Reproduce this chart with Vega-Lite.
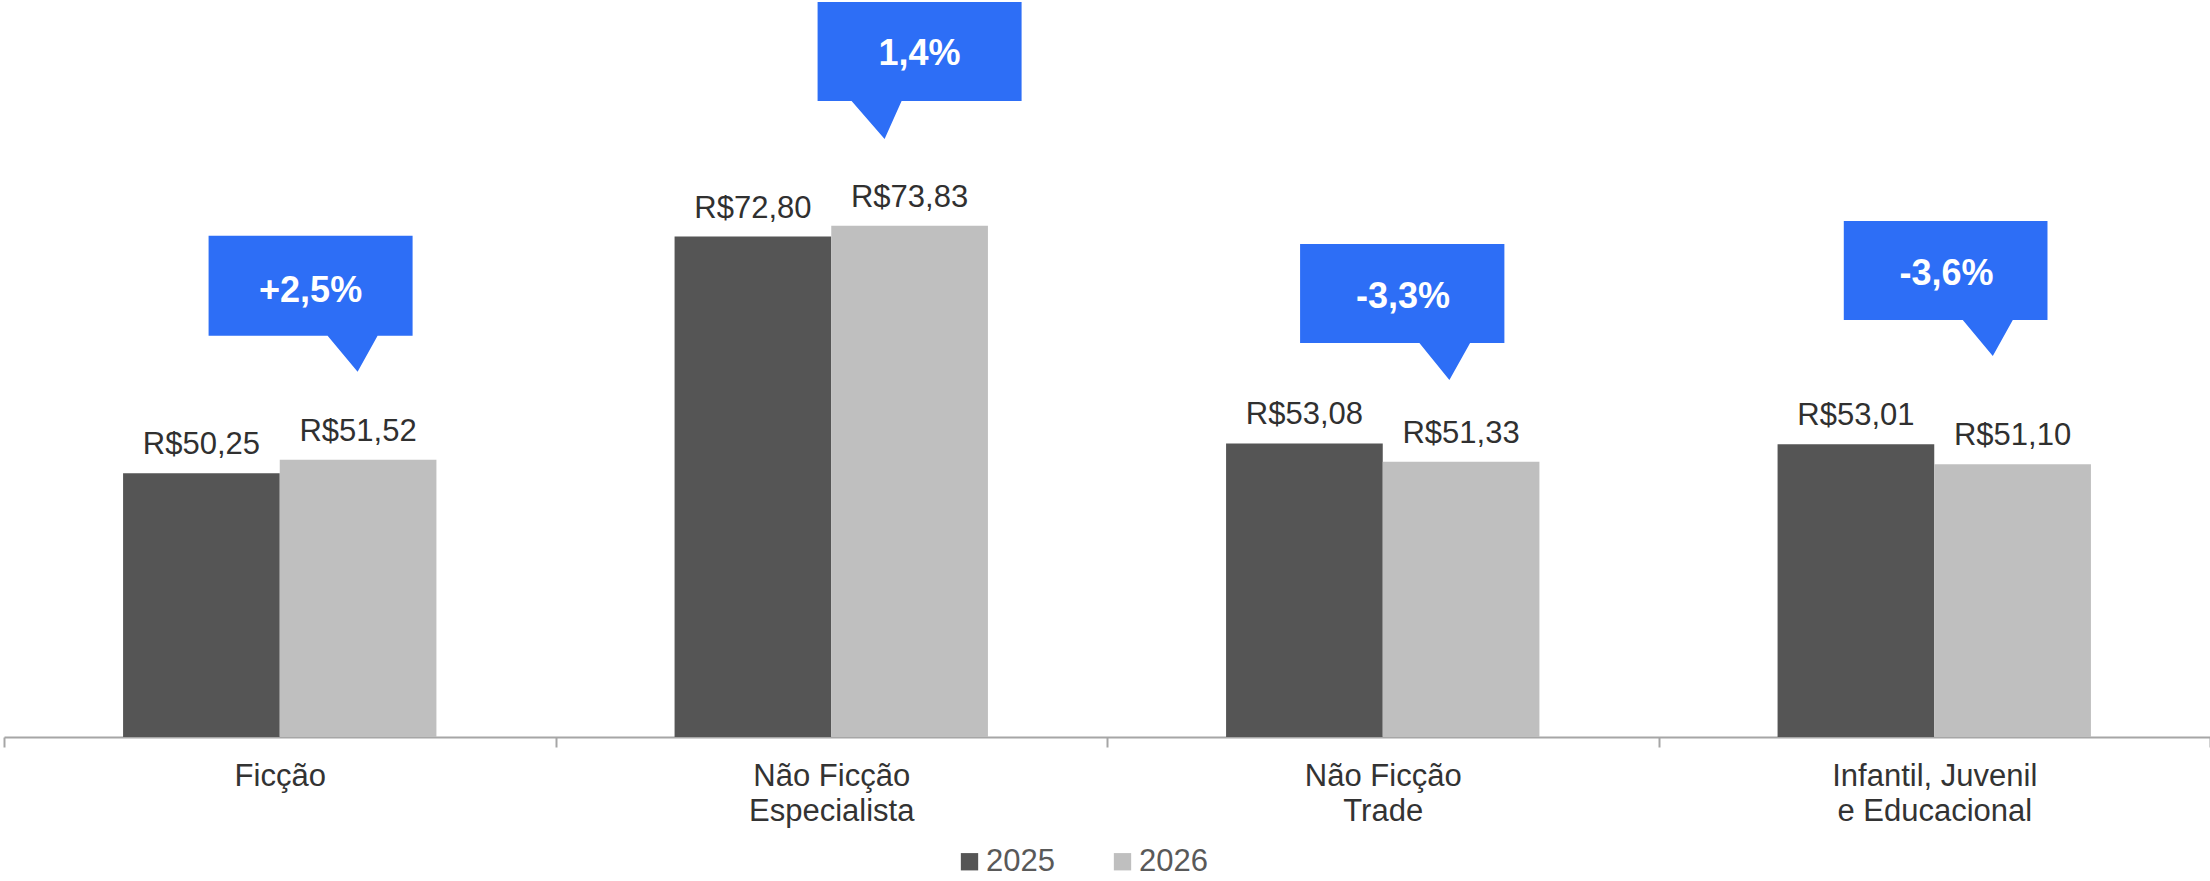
{
  "$schema": "https://vega.github.io/schema/vega-lite/v6.json",
  "autosize": {"type": "none"},
  "width": 2206,
  "height": 737,
  "padding": {"left": 4, "right": 0, "top": 0, "bottom": 144},
  "background": "white",
  "config": {
    "font": "Liberation Sans",
    "view": {"stroke": null},
    "locale": {"number": {"decimal": ",", "thousands": ".", "grouping": [3], "currency": ["R$", ""]}}
  },
  "datasets": {
    "bars": [
      {"cat": "Ficção", "year": "2025", "value": 50.25},
      {"cat": "Ficção", "year": "2026", "value": 51.52},
      {"cat": "Não Ficção Especialista", "year": "2025", "value": 72.80},
      {"cat": "Não Ficção Especialista", "year": "2026", "value": 73.83},
      {"cat": "Não Ficção Trade", "year": "2025", "value": 53.08},
      {"cat": "Não Ficção Trade", "year": "2026", "value": 51.33},
      {"cat": "Infantil, Juvenil e Educacional", "year": "2025", "value": 53.01},
      {"cat": "Infantil, Juvenil e Educacional", "year": "2026", "value": 51.10}
    ],
    "callouts": [
      {"cat": "Ficção", "year": "2026", "pct": "+2,5%", "tip": 59.92},
      {"cat": "Não Ficção Especialista", "year": "2026", "pct": "1,4%", "tip": 82.11},
      {"cat": "Não Ficção Trade", "year": "2026", "pct": "-3,3%", "tip": 59.13},
      {"cat": "Infantil, Juvenil e Educacional", "year": "2026", "pct": "-3,6%", "tip": 61.42}
    ]
  },
  "encoding": {
    "x": {
      "field": "cat",
      "type": "nominal",
      "sort": ["Ficção", "Não Ficção Especialista", "Não Ficção Trade", "Infantil, Juvenil e Educacional"],
      "scale": {"paddingInner": 0, "paddingOuter": 0},
      "axis": {
        "title": null,
        "labelAngle": 0,
        "tickBand": "extent",
        "domainColor": "#A6A6A6",
        "domainWidth": 2,
        "tickColor": "#A6A6A6",
        "tickWidth": 2,
        "tickSize": 10,
        "labelFontSize": 31,
        "labelFont": "Liberation Sans",
        "labelColor": "#333333",
        "labelPadding": 14,
        "labelLineHeight": 35,
        "labelLimit": 600,
        "labelOverlap": false,
        "grid": false,
        "labelExpr": "datum.value == 'Não Ficção Especialista' ? ['Não Ficção', 'Especialista'] : datum.value == 'Não Ficção Trade' ? ['Não Ficção', 'Trade'] : datum.value == 'Infantil, Juvenil e Educacional' ? ['Infantil, Juvenil', 'e Educacional'] : datum.value"
      }
    },
    "xOffset": {
      "field": "year",
      "type": "nominal",
      "scale": {"domain": ["2025", "2026"], "paddingInner": 0, "paddingOuter": 0.76}
    }
  },
  "layer": [
    {
      "data": {"name": "bars"},
      "mark": {"type": "bar"},
      "encoding": {
        "y": {"field": "value", "type": "quantitative", "scale": {"domain": [25.1, 95.35], "nice": false, "zero": false}, "axis": null},
        "y2": {"datum": 25.1},
        "color": {
          "field": "year",
          "type": "nominal",
          "scale": {"domain": ["2025", "2026"], "range": ["#555555", "#BFBFBF"]},
          "legend": {
            "orient": "none",
            "legendX": 950,
            "legendY": 846,
            "direction": "horizontal",
            "title": null,
            "symbolType": "square",
            "symbolSize": 300,
            "symbolStrokeWidth": 0,
            "labelFontSize": 31,
            "labelColor": "#595959",
            "labelFont": "Liberation Sans",
            "labelOffset": 1,
            "columnPadding": 52,
            "padding": 0
          }
        }
      }
    },
    {
      "data": {"name": "bars"},
      "mark": {"type": "text", "baseline": "alphabetic", "align": "center", "dy": -19, "fontSize": 31, "color": "#303030"},
      "encoding": {
        "y": {"field": "value", "type": "quantitative"},
        "text": {"field": "value", "type": "quantitative", "format": "$.2f"}
      }
    },
    {
      "data": {"name": "callouts"},
      "transform": [{"filter": "datum.cat == 'Ficção'"}],
      "mark": {"type": "point", "filled": true, "opacity": 1, "size": 4, "strokeWidth": 0, "color": "#2D6EF6",
        "shape": "M-149.5,-136 L54.5,-136 L54.5,-36 L19.5,-36 L-0.5,0 L-30.5,-36 L-149.5,-36 Z"},
      "encoding": {"y": {"field": "tip", "type": "quantitative"}}
    },
    {
      "data": {"name": "callouts"},
      "transform": [{"filter": "datum.cat == 'Ficção'"}],
      "mark": {"type": "text", "align": "center", "baseline": "alphabetic", "dx": -47.5, "dy": -70, "fontSize": 36, "fontWeight": "bold", "color": "white"},
      "encoding": {"y": {"field": "tip", "type": "quantitative"}, "text": {"field": "pct", "type": "nominal"}}
    },
    {
      "data": {"name": "callouts"},
      "transform": [{"filter": "datum.cat == 'Não Ficção Especialista'"}],
      "mark": {"type": "point", "filled": true, "opacity": 1, "size": 4, "strokeWidth": 0, "color": "#2D6EF6",
        "shape": "M-92,-137 L112,-137 L112,-38 L-8,-38 L-25,0 L-58,-38 L-92,-38 Z"},
      "encoding": {"y": {"field": "tip", "type": "quantitative"}}
    },
    {
      "data": {"name": "callouts"},
      "transform": [{"filter": "datum.cat == 'Não Ficção Especialista'"}],
      "mark": {"type": "text", "align": "center", "baseline": "alphabetic", "dx": 10, "dy": -74, "fontSize": 36, "fontWeight": "bold", "color": "white"},
      "encoding": {"y": {"field": "tip", "type": "quantitative"}, "text": {"field": "pct", "type": "nominal"}}
    },
    {
      "data": {"name": "callouts"},
      "transform": [{"filter": "datum.cat == 'Não Ficção Trade'"}],
      "mark": {"type": "point", "filled": true, "opacity": 1, "size": 4, "strokeWidth": 0, "color": "#2D6EF6",
        "shape": "M-161,-136 L43.3,-136 L43.3,-37 L9,-37 L-11.7,0 L-41.7,-37 L-161,-37 Z"},
      "encoding": {"y": {"field": "tip", "type": "quantitative"}}
    },
    {
      "data": {"name": "callouts"},
      "transform": [{"filter": "datum.cat == 'Não Ficção Trade'"}],
      "mark": {"type": "text", "align": "center", "baseline": "alphabetic", "dx": -58, "dy": -72, "fontSize": 36, "fontWeight": "bold", "color": "white"},
      "encoding": {"y": {"field": "tip", "type": "quantitative"}, "text": {"field": "pct", "type": "nominal"}}
    },
    {
      "data": {"name": "callouts"},
      "transform": [{"filter": "datum.cat == 'Infantil, Juvenil e Educacional'"}],
      "mark": {"type": "point", "filled": true, "opacity": 1, "size": 4, "strokeWidth": 0, "color": "#2D6EF6",
        "shape": "M-168.8,-135 L34.9,-135 L34.9,-36 L0.2,-36 L-19.8,0 L-49.8,-36 L-168.8,-36 Z"},
      "encoding": {"y": {"field": "tip", "type": "quantitative"}}
    },
    {
      "data": {"name": "callouts"},
      "transform": [{"filter": "datum.cat == 'Infantil, Juvenil e Educacional'"}],
      "mark": {"type": "text", "align": "center", "baseline": "alphabetic", "dx": -66, "dy": -71, "fontSize": 36, "fontWeight": "bold", "color": "white"},
      "encoding": {"y": {"field": "tip", "type": "quantitative"}, "text": {"field": "pct", "type": "nominal"}}
    }
  ]
}
